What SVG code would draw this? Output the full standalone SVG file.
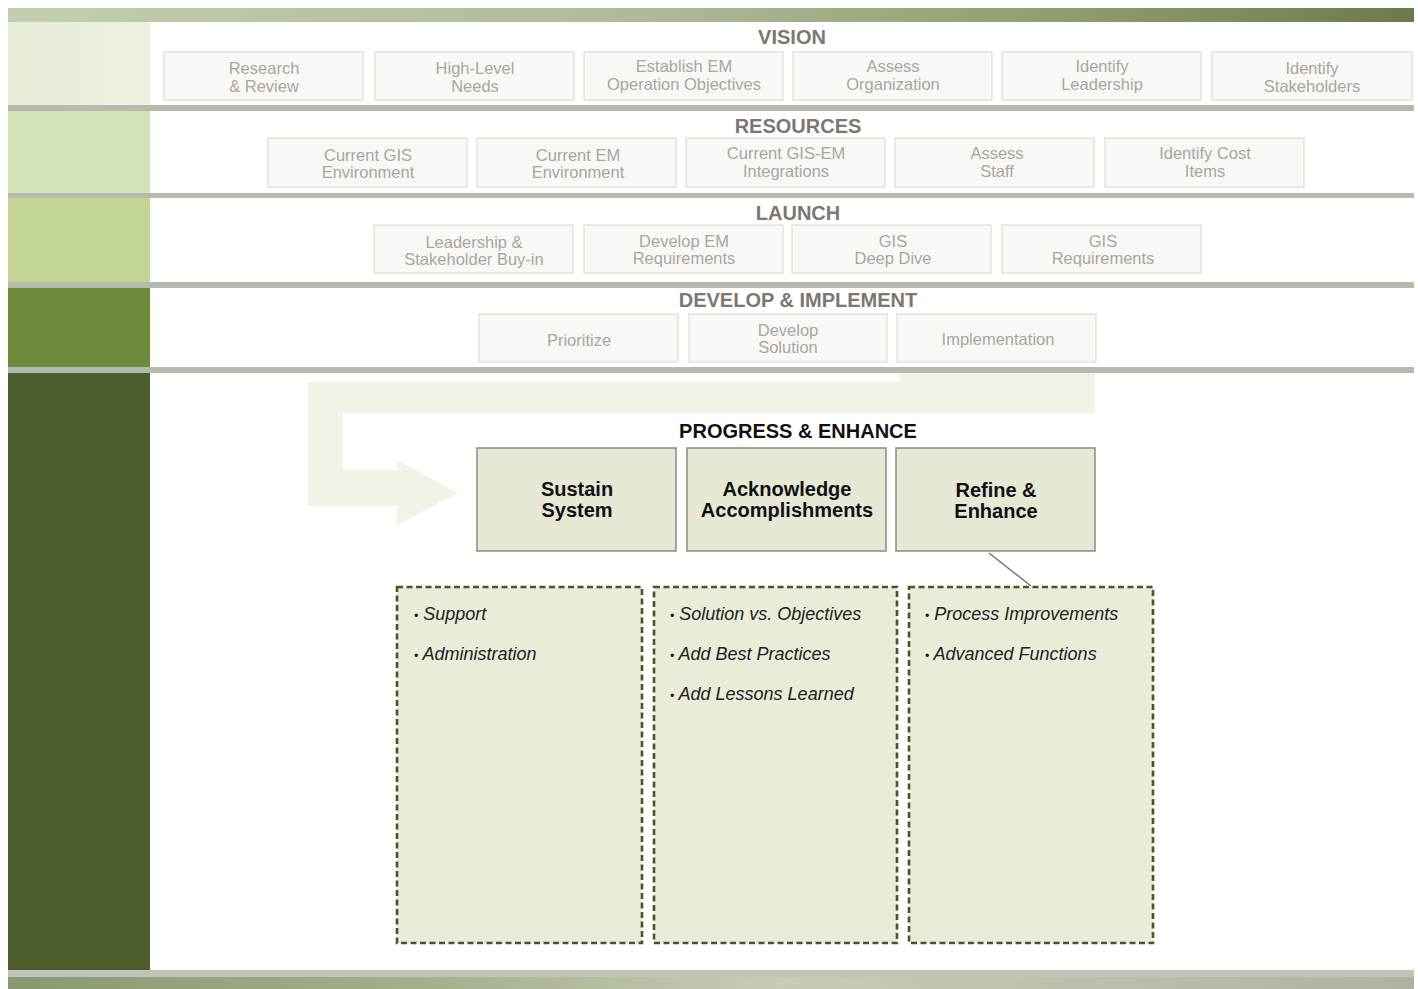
<svg xmlns="http://www.w3.org/2000/svg" width="1418" height="989" viewBox="0 0 1418 989">
  <defs>
    <linearGradient id="topbar" x1="0" y1="0" x2="1" y2="0">
      <stop offset="0" stop-color="#c3cdb0"/>
      <stop offset="0.45" stop-color="#aebb98"/>
      <stop offset="0.75" stop-color="#8f9e70"/>
      <stop offset="1" stop-color="#6c7c48"/>
    </linearGradient>
    <linearGradient id="botbar" x1="0" y1="0" x2="1" y2="0">
      <stop offset="0" stop-color="#8a9870"/>
      <stop offset="0.3" stop-color="#a4b08c"/>
      <stop offset="0.55" stop-color="#c6cdb6"/>
      <stop offset="1" stop-color="#aeb3a0"/>
    </linearGradient>
    <linearGradient id="visL" x1="0" y1="0" x2="1" y2="0">
      <stop offset="0" stop-color="#e4ebd6"/>
      <stop offset="1" stop-color="#edf1e3"/>
    </linearGradient>
    <style>
      .sep{fill:#b6b9ad}
      .fbox{fill:#f8f9f4;stroke:#dddcd7;stroke-width:1.2}
      .ft{font-family:"Liberation Sans",Arial,sans-serif;font-size:16.5px;fill:#aca4a1;text-anchor:middle}
      .title{font-family:"Liberation Sans",Arial,sans-serif;font-size:20px;font-weight:bold;fill:#7d7671;text-anchor:middle}
      .ptitle{font-family:"Liberation Sans",Arial,sans-serif;font-size:20px;font-weight:bold;fill:#111;text-anchor:middle}
      .pbox{fill:#e4e8d5;stroke:#8c8c82;stroke-width:1.5}
      .pt{font-family:"Liberation Sans",Arial,sans-serif;font-size:20px;font-weight:bold;fill:#111;text-anchor:middle}
      .dbox{fill:#e8ecd9;stroke:#465726;stroke-width:2.6;stroke-dasharray:6,3.5}
      .bt{font-family:"Liberation Sans",Arial,sans-serif;font-size:18px;font-style:italic;fill:#222}
      .conn{stroke:#7a6e6a;stroke-width:1.4;fill:none}
    </style>
  </defs>

  <rect width="1418" height="989" fill="#ffffff"/>

  <!-- frame -->
  <g id="frame">
    <rect x="8" y="8" width="1406" height="14" fill="url(#topbar)"/>
    <rect x="8" y="22" width="142" height="83" fill="url(#visL)"/>
    <rect x="8" y="111" width="142" height="82" fill="#d4e2b8"/>
    <rect x="8" y="198" width="142" height="84" fill="#c3d593"/>
    <rect x="8" y="288" width="142" height="79" fill="#6d8a3a"/>
    <rect x="8" y="373" width="142" height="597" fill="#4a5d2a"/>
    <rect class="sep" x="8" y="105" width="1406" height="6"/>
    <rect class="sep" x="8" y="193" width="1406" height="5"/>
    <rect class="sep" x="8" y="282" width="1406" height="6"/>
    <rect class="sep" x="8" y="367" width="1406" height="6"/>
    <rect x="8" y="970" width="1406" height="7" fill="#c2c4ba"/>
    <rect x="8" y="977" width="1406" height="12" fill="url(#botbar)"/>
  </g>

  <!-- background cycle arrow -->
  <g id="cycle-arrow">
    <path d="M308,382 L900,382 L900,373 L1095,373 L1095,413 L343,413 L343,470 L397,470 L397,460 L458,493 L397,525 L397,506 L308,506 Z" fill="#f1f3e6"/>
  </g>

  <!-- VISION -->
  <g id="vision">
    <text class="title" x="792" y="44">VISION</text>
    <g id="v1"><rect class="fbox" x="164" y="52" width="199" height="48"/><text class="ft" x="264" y="74">Research</text><text class="ft" x="264" y="92">&amp; Review</text></g>
    <g id="v2"><rect class="fbox" x="375" y="52" width="199" height="48"/><text class="ft" x="475" y="74">High-Level</text><text class="ft" x="475" y="92">Needs</text></g>
    <g id="v3"><rect class="fbox" x="584" y="52" width="199" height="48"/><text class="ft" x="684" y="72">Establish EM</text><text class="ft" x="684" y="90">Operation Objectives</text></g>
    <g id="v4"><rect class="fbox" x="793" y="52" width="199" height="48"/><text class="ft" x="893" y="72">Assess</text><text class="ft" x="893" y="90">Organization</text></g>
    <g id="v5"><rect class="fbox" x="1002" y="52" width="199" height="48"/><text class="ft" x="1102" y="72">Identify</text><text class="ft" x="1102" y="90">Leadership</text></g>
    <g id="v6"><rect class="fbox" x="1212" y="52" width="200" height="48"/><text class="ft" x="1312" y="74">Identify</text><text class="ft" x="1312" y="92">Stakeholders</text></g>
  </g>

  <!-- RESOURCES -->
  <g id="resources">
    <text class="title" x="798" y="133">RESOURCES</text>
    <g id="r1"><rect class="fbox" x="268" y="138" width="199" height="49"/><text class="ft" x="368" y="161">Current GIS</text><text class="ft" x="368" y="178">Environment</text></g>
    <g id="r2"><rect class="fbox" x="477" y="138" width="199" height="49"/><text class="ft" x="578" y="161">Current EM</text><text class="ft" x="578" y="178">Environment</text></g>
    <g id="r3"><rect class="fbox" x="686" y="138" width="199" height="49"/><text class="ft" x="786" y="159">Current GIS-EM</text><text class="ft" x="786" y="177">Integrations</text></g>
    <g id="r4"><rect class="fbox" x="895" y="138" width="199" height="49"/><text class="ft" x="997" y="159">Assess</text><text class="ft" x="997" y="177">Staff</text></g>
    <g id="r5"><rect class="fbox" x="1105" y="138" width="199" height="49"/><text class="ft" x="1205" y="159">Identify Cost</text><text class="ft" x="1205" y="177">Items</text></g>
  </g>

  <!-- LAUNCH -->
  <g id="launch">
    <text class="title" x="798" y="220">LAUNCH</text>
    <g id="l1"><rect class="fbox" x="374" y="225" width="199" height="48"/><text class="ft" x="474" y="248">Leadership &amp;</text><text class="ft" x="474" y="265">Stakeholder Buy-in</text></g>
    <g id="l2"><rect class="fbox" x="584" y="225" width="199" height="48"/><text class="ft" x="684" y="247">Develop EM</text><text class="ft" x="684" y="264">Requirements</text></g>
    <g id="l3"><rect class="fbox" x="792" y="225" width="199" height="48"/><text class="ft" x="893" y="247">GIS</text><text class="ft" x="893" y="264">Deep Dive</text></g>
    <g id="l4"><rect class="fbox" x="1002" y="225" width="199" height="48"/><text class="ft" x="1103" y="247">GIS</text><text class="ft" x="1103" y="264">Requirements</text></g>
  </g>

  <!-- DEVELOP & IMPLEMENT -->
  <g id="develop">
    <text class="title" x="798" y="307">DEVELOP &amp; IMPLEMENT</text>
    <g id="d1"><rect class="fbox" x="479" y="314" width="199" height="48"/><text class="ft" x="579" y="346">Prioritize</text></g>
    <g id="d2"><rect class="fbox" x="689" y="314" width="198" height="48"/><text class="ft" x="788" y="336">Develop</text><text class="ft" x="788" y="353">Solution</text></g>
    <g id="d3"><rect class="fbox" x="897" y="314" width="199" height="48"/><text class="ft" x="998" y="345">Implementation</text></g>
  </g>

  <!-- PROGRESS & ENHANCE -->
  <g id="progress">
    <text class="ptitle" x="798" y="438">PROGRESS &amp;  ENHANCE</text>
    <g id="p1"><rect class="pbox" x="477" y="448" width="199" height="103"/><text class="pt" x="577" y="496">Sustain</text><text class="pt" x="577" y="517">System</text></g>
    <g id="p2"><rect class="pbox" x="687" y="448" width="199" height="103"/><text class="pt" x="787" y="496">Acknowledge</text><text class="pt" x="787" y="517">Accomplishments</text></g>
    <g id="p3"><rect class="pbox" x="896" y="448" width="199" height="103"/><text class="pt" x="996" y="497">Refine &amp;</text><text class="pt" x="996" y="518">Enhance</text></g>
  </g>

  <g id="connectors">
    <line class="conn" x1="989" y1="553" x2="1031" y2="586"/>
  </g>

  <g id="detail1">
    <rect class="dbox" x="397" y="587" width="245" height="356"/>
    <text class="bt" x="414" y="620"><tspan font-size="12">•</tspan> Support</text>
    <text class="bt" x="414" y="660"><tspan font-size="12">•</tspan> Administration</text>
  </g>
  <g id="detail2">
    <rect class="dbox" x="654" y="587" width="243" height="356"/>
    <text class="bt" x="670" y="620"><tspan font-size="12">•</tspan> Solution vs. Objectives</text>
    <text class="bt" x="670" y="660"><tspan font-size="12">•</tspan> Add Best Practices</text>
    <text class="bt" x="670" y="700"><tspan font-size="12">•</tspan> Add Lessons Learned</text>
  </g>
  <g id="detail3">
    <rect class="dbox" x="909" y="587" width="244" height="356"/>
    <text class="bt" x="925" y="620"><tspan font-size="12">•</tspan> Process Improvements</text>
    <text class="bt" x="925" y="660"><tspan font-size="12">•</tspan> Advanced Functions</text>
  </g>
</svg>
